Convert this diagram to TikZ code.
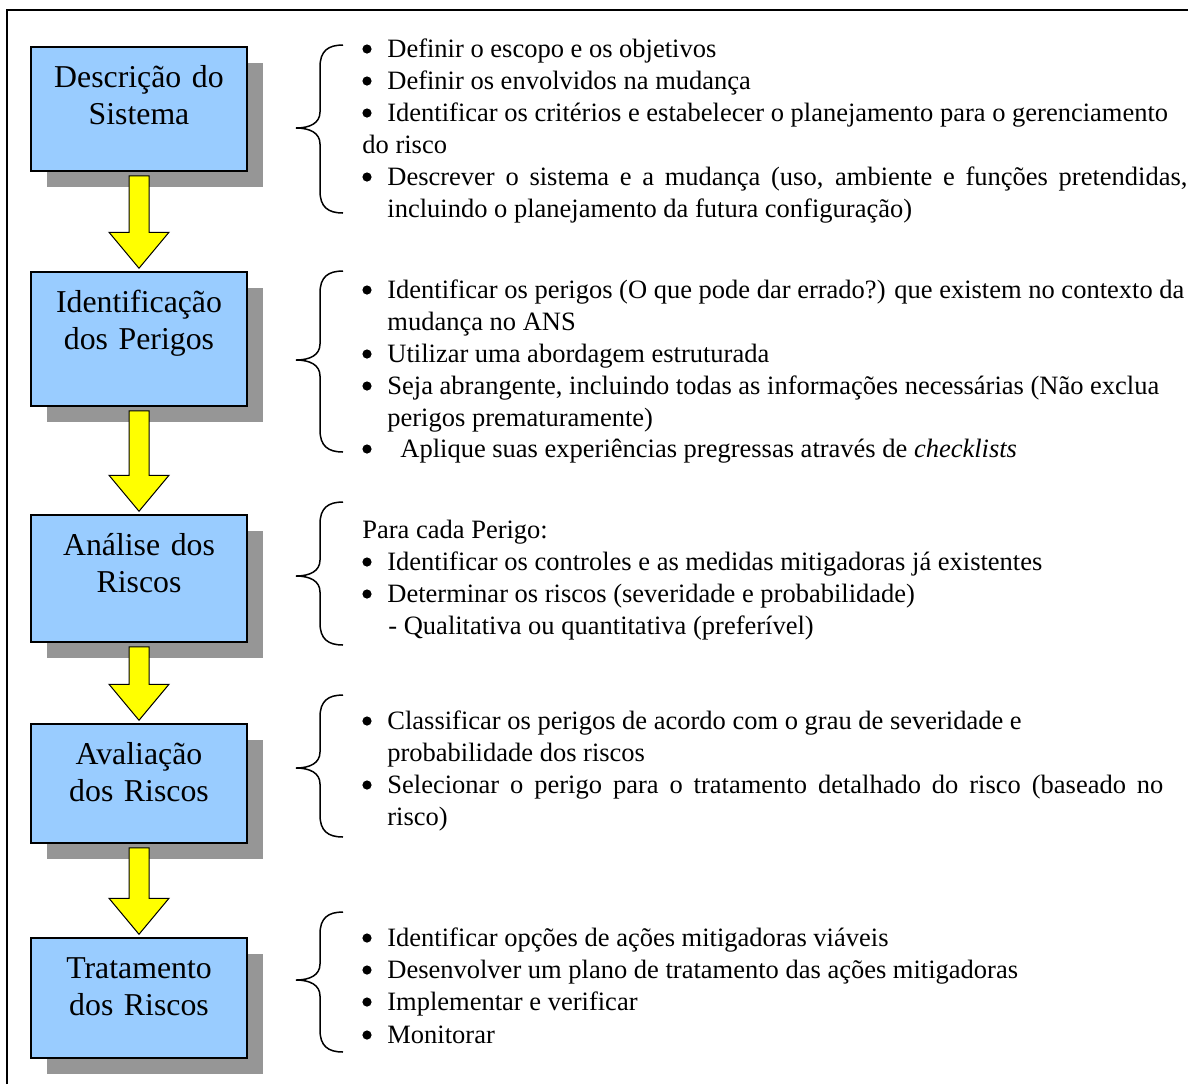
\documentclass[tikz,border=0pt]{standalone}
\usepackage{fontspec}
\setmainfont{Liberation Serif}
\usetikzlibrary{shadows,calc}
\definecolor{boxblue}{HTML}{99CCFF}
\definecolor{arrowyellow}{HTML}{FFFF00}
\definecolor{shadowgray}{HTML}{969696}
\newcommand\listfont{\fontsize{13.25}{16}\selectfont}
\newcommand\boxfont{\fontsize{15.9}{18.5}\selectfont}
% round bullet mark, drawn as a small filled disc
\newcommand\dotmark{\tikz[baseline=0pt]\fill (2.3pt,4pt) circle (2.3pt);}
\newcommand\bul{\makebox[12.5pt][l]{\dotmark}}
% left curly brace: top, tip and bottom heights
\newcommand\groupbrace[3]{%
  \draw[bracestroke] (343,#1) .. controls (328,#1) and (320,#1+6) .. (320,#1+22)
    -- (320,#2-16) .. controls (320,#2-5) and (310,#2) .. (296,#2)
    .. controls (310,#2) and (320,#2+5) .. (320,#2+16)
    -- (320,#3-22) .. controls (320,#3-6) and (328,#3) .. (343,#3);}
% yellow block arrow from one box down to the next
\newcommand\blockarrow[2]{%
  \draw[yarrow] let \p1=(#1.south), \p2=(#2.north) in
    (\x1-5pt,\y1-2pt) -- (\x1-5pt,\y2+19.5pt) -- (\x1-15pt,\y2+19.5pt)
    -- (\x1,\y2+1.5pt) -- (\x1+15pt,\y2+19.5pt) -- (\x1+5pt,\y2+19.5pt)
    -- (\x1+5pt,\y1-2pt) -- cycle;}

\begin{document}
\begin{tikzpicture}[x=0.5pt,y=-0.5pt,
  stepbox/.style={draw, line width=0.75pt, fill=boxblue, minimum width=108pt,
    inner sep=0pt,
    drop shadow={shadow xshift=8pt, shadow yshift=-8pt, fill=shadowgray, opacity=1}},
  boxlabel/.style={anchor=base, inner sep=0pt, text width=108pt, align=center, font=\boxfont},
  item/.style={anchor=base west, inner sep=0pt, font=\listfont},
  bracestroke/.style={line width=0.75pt},
  yarrow/.style={draw, line width=0.5pt, fill=arrowyellow, line join=miter}]

\useasboundingbox (0,0) rectangle (1188,1084);

% outer frame
\draw[line width=1pt] (7,1084) -- (7,10) -- (1188,10);

% process steps
\node[stepbox, minimum height=62pt]   (b1) at (139,109)   {};
\node[stepbox, minimum height=67pt]   (b2) at (139,339)   {};
\node[stepbox, minimum height=63.5pt] (b3) at (139,578.5) {};
\node[stepbox, minimum height=59.5pt] (b4) at (139,783.5) {};
\node[stepbox, minimum height=60pt]   (b5) at (139,998)   {};

\node[boxlabel] (b1t) at (139,87)  {Descrição do\\Sistema};
\node[boxlabel] (b2t) at (139,312) {Identificação\\dos Perigos};
\node[boxlabel] (b3t) at (139,555) {Análise dos\\Riscos};
\node[boxlabel] (b4t) at (139,764) {Avaliação\\dos Riscos};
\node[boxlabel] (b5t) at (139,978) {Tratamento\\dos Riscos};

\blockarrow{b1}{b2}
\blockarrow{b2}{b3}
\blockarrow{b3}{b4}
\blockarrow{b4}{b5}

% braces
\groupbrace{45}{128}{213}
\groupbrace{271}{360}{452}
\groupbrace{502}{576}{645}
\groupbrace{695}{768}{837}
\groupbrace{912}{980}{1052}

% step 1
\node[item] (g1a) at (362,57)  {\bul Definir o escopo e os objetivos};
\node[item] (g1b) at (362,89)  {\bul Definir os envolvidos na mudança};
\node[item] (g1c) at (362,121) {\bul Identificar os critérios e estabelecer o planejamento para o gerenciamento};
\node[item] (g1d) at (362,153) {do risco};
\node[item] (g1e) at (362,185) {\bul\makebox[400pt][s]{Descrever o sistema e a mudança (uso, ambiente e funções pretendidas,}};
\node[item] (g1f) at (387,217) {incluindo o planejamento da futura configuração)};

% step 2
\node[item] (g2a) at (362,298) {\bul Identificar os perigos (O que pode dar errado?) que existem no contexto da};
\node[item] (g2b) at (387,330) {mudança no ANS};
\node[item] (g2c) at (362,362) {\bul Utilizar uma abordagem estruturada};
\node[item] (g2d) at (362,394) {\bul Seja abrangente, incluindo todas as informações necessárias (Não exclua};
\node[item] (g2e) at (387,426) {perigos prematuramente)};
\node[item] (g2f) at (362,457) {\makebox[19pt][l]{\dotmark}Aplique suas experiências pregressas através de \textit{checklists}};

% step 3
\node[item] (g3a) at (362,538) {Para cada Perigo:};
\node[item] (g3b) at (362,570) {\bul Identificar os controles e as medidas mitigadoras já existentes};
\node[item] (g3c) at (362,602) {\bul Determinar os riscos (severidade e probabilidade)};
\node[item] (g3d) at (388,634) {- Qualitativa ou quantitativa (preferível)};

% step 4
\node[item] (g4a) at (362,729) {\bul Classificar os perigos de acordo com o grau de severidade e};
\node[item] (g4b) at (387,761) {probabilidade dos riscos};
\node[item] (g4c) at (362,793) {\bul\makebox[388pt][s]{Selecionar o perigo para o tratamento detalhado do risco (baseado no}};
\node[item] (g4d) at (387,825) {risco)};

% step 5
\node[item] (g5a) at (362,946)  {\bul Identificar opções de ações mitigadoras viáveis};
\node[item] (g5b) at (362,978)  {\bul Desenvolver um plano de tratamento das ações mitigadoras};
\node[item] (g5c) at (362,1010) {\bul Implementar e verificar};
\node[item] (g5d) at (362,1043) {\bul Monitorar};

\end{tikzpicture}
\end{document}
